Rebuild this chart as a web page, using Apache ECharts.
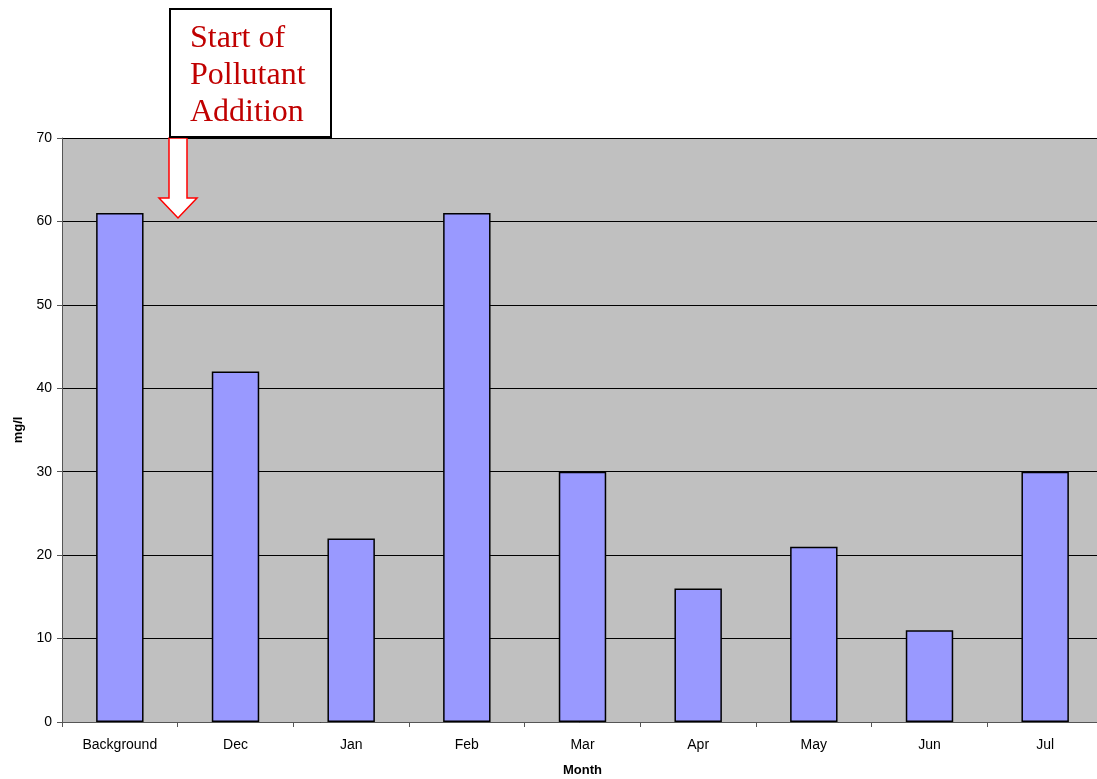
<!DOCTYPE html>
<html>
<head>
<meta charset="utf-8">
<script src="https://cdn.jsdelivr.net/npm/echarts@6/dist/echarts.min.js"></script>
<style>
  html, body { margin: 0; padding: 0; background: #fff; }
  #chart { width: 1097px; height: 779px; }
</style>
</head>
<body>
<div id="chart"></div>
<script>
// Monthly concentration (mg/l)
const months = ['Background', 'Dec', 'Jan', 'Feb', 'Mar', 'Apr', 'May', 'Jun', 'Jul'];
const concentration = [61, 42, 22, 61, 30, 16, 21, 11, 30];
const yTicks = { min: 0, max: 70, interval: 10 };
const noteLines = ['Start of', 'Pollutant', 'Addition'];

const chart = echarts.init(document.getElementById('chart'));

const option = {
  animation: false,
  grid: { left: 62, top: 138, width: 1041, height: 584, containLabel: false,
          outerBoundsMode: 'none',
          show: true, backgroundColor: '#c0c0c0', borderWidth: 0 },
  xAxis: {
    type: 'category',
    data: months,
    name: 'Month',
    nameLocation: 'middle',
    nameGap: 42,
    nameTextStyle: { fontFamily: 'Liberation Sans', fontSize: 13, fontWeight: 'bold', color: '#000' },
    axisLine: { lineStyle: { color: '#555', width: 1 } },
    axisTick: { show: true, alignWithLabel: false, length: 5, lineStyle: { color: '#555' } },
    axisLabel: { fontFamily: 'Liberation Sans', fontSize: 14, color: '#000', margin: 16 }
  },
  yAxis: {
    type: 'value',
    min: yTicks.min, max: yTicks.max, interval: yTicks.interval,
    name: 'mg/l',
    nameLocation: 'middle',
    nameGap: 37,
    nameRotate: 90,
    nameTextStyle: { fontFamily: 'Liberation Sans', fontSize: 13, fontWeight: 'bold', color: '#000' },
    axisLine: { show: true, lineStyle: { color: '#555', width: 1 } },
    axisTick: { show: true, length: 5, lineStyle: { color: '#555' } },
    axisLabel: { fontFamily: 'Liberation Sans', fontSize: 14, color: '#000', margin: 10 },
    splitLine: { show: true, lineStyle: { color: '#000', width: 1 } }
  },
  series: [{
    type: 'bar',
    data: concentration,
    barWidth: '41%',
    itemStyle: { color: '#9999ff', borderColor: '#000', borderWidth: 1.5 }
  }],
  graphic: [
    // downward arrow marking the start of pollutant addition
    {
      type: 'polygon',
      shape: { points: [[169, 138], [187, 138], [187, 198], [197, 198], [178, 218], [159, 198], [169, 198]] },
      style: { fill: '#fff', stroke: '#ff0000', lineWidth: 1.5 },
      z: 100
    },
    {
      type: 'rect',
      shape: { x: 170, y: 9, width: 161, height: 128 },
      style: { fill: '#fff', stroke: '#000', lineWidth: 2 },
      z: 101
    },
    {
      type: 'text',
      left: 190, top: 20,
      style: {
        text: noteLines.join('\n'),
        font: '32px "Liberation Serif"',
        lineHeight: 37,
        fill: '#c00000'
      },
      z: 102
    }
  ]
};

chart.setOption(option);
</script>
</body>
</html>
